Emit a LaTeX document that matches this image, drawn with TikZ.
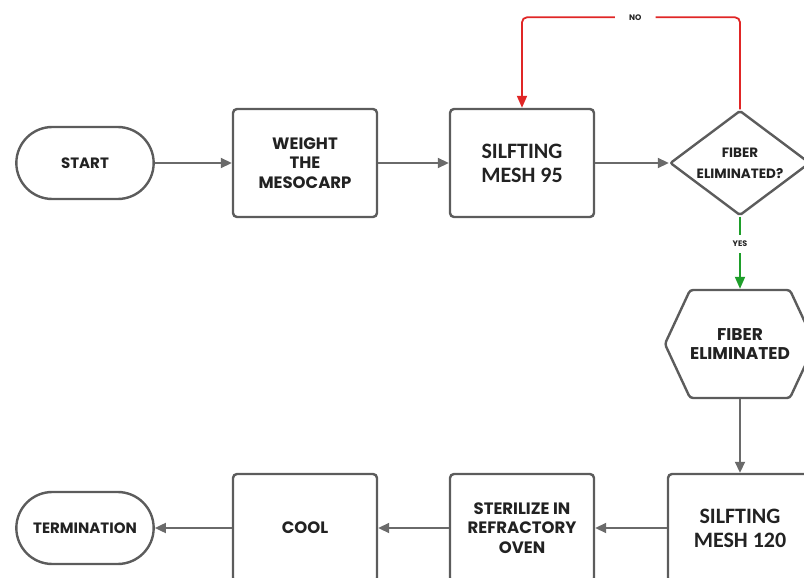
\documentclass[tikz,border=0pt]{standalone}
\usepackage{fontspec}
\setmainfont{Poppins}
\newfontfamily\carlito{Carlito}
\usetikzlibrary{shapes.geometric,shapes.misc,shapes.symbols,arrows.meta}
\definecolor{boxgray}{HTML}{5C5C5C}
\definecolor{linegray}{HTML}{6A6A6A}
\definecolor{txt}{HTML}{222222}
\definecolor{nored}{HTML}{E02626}
\definecolor{yesgreen}{HTML}{1E9E2A}

\begin{document}
\begin{tikzpicture}[x=1pt,y=-1pt,
  process/.style={draw=boxgray,line width=2.4pt,rounded corners=4pt,minimum width=144pt,minimum height=108pt,
    align=center,text=txt,font=\bfseries\fontsize{16.5}{19.5}\selectfont},
  meshbox/.style={process,font=\carlito\bfseries\fontsize{22}{24}\selectfont},
  terminal/.style={rounded rectangle,draw=boxgray,line width=2.4pt,minimum width=144pt,minimum height=72pt,
    text=txt,font=\bfseries\fontsize{15}{19}\selectfont},
  decision/.style={diamond,draw=boxgray,line width=2.4pt,rounded corners=2pt,minimum width=140pt,minimum height=105pt,
    inner sep=-6pt,align=center,text=txt,font=\bfseries\fontsize{13.5}{21}\selectfont},
  hexa/.style={signal,signal to=west and east,signal pointer angle=130,draw=boxgray,line width=2.4pt,rounded corners=3pt,
    inner sep=0pt,minimum width=144pt,minimum height=108pt,align=center,text=txt,font=\bfseries\fontsize{17}{19.5}\selectfont},
  flow/.style={draw=linegray,line width=1.8pt,-{Triangle[length=11pt,width=10pt]}},
  nopath/.style={flow,draw=nored,-{Triangle[length=12pt,width=10pt,fill=nored]},rounded corners=5pt},
  yespath/.style={flow,draw=yesgreen,-{Triangle[length=12pt,width=10pt,fill=yesgreen]}},
  answer/.style={fill=white,inner xsep=14pt,inner ysep=6pt,text=txt,font=\bfseries\fontsize{8}{8}\selectfont}
]
\useasboundingbox (0,0) rectangle (804,578);
\clip (0,0) rectangle (804,578);

% top row
\node[terminal] (start) at (85,163) {START};
\node[process] (weigh) at (305,163) {WEIGHT\\THE\\MESOCARP};
\node[meshbox] (mesh95) at (522,163) {SILFTING\\MESH 95};
\node[decision] (fiber) at (740,163) {FIBER\\ELIMINATED?};

% right column
\node[hexa] (elim) at (740,344) {FIBER\\ELIMINATED};

% bottom row
\node[meshbox] (mesh120) at (740,528) {SILFTING\\MESH 120};
\node[process] (oven) at (522,528) {STERILIZE IN\\REFRACTORY\\OVEN};
\node[process] (cool) at (305,528) {COOL};
\node[terminal] (term) at (85,528) {TERMINATION};

\draw[flow] (start) -- (weigh);
\draw[flow] (weigh) -- (mesh95);
\draw[flow] (mesh95) -- (fiber);
\draw[nopath] (fiber.north) -- ++(0,-92) -| node[pos=0.24,answer] {NO} (mesh95.north);
\draw[yespath] (fiber.south) -- node[pos=0.38,answer] {YES} (elim.north);
\draw[flow] (elim) -- (mesh120);
\draw[flow] (mesh120) -- (oven);
\draw[flow] (oven) -- (cool);
\draw[flow] (cool) -- (term);
\end{tikzpicture}
\end{document}
